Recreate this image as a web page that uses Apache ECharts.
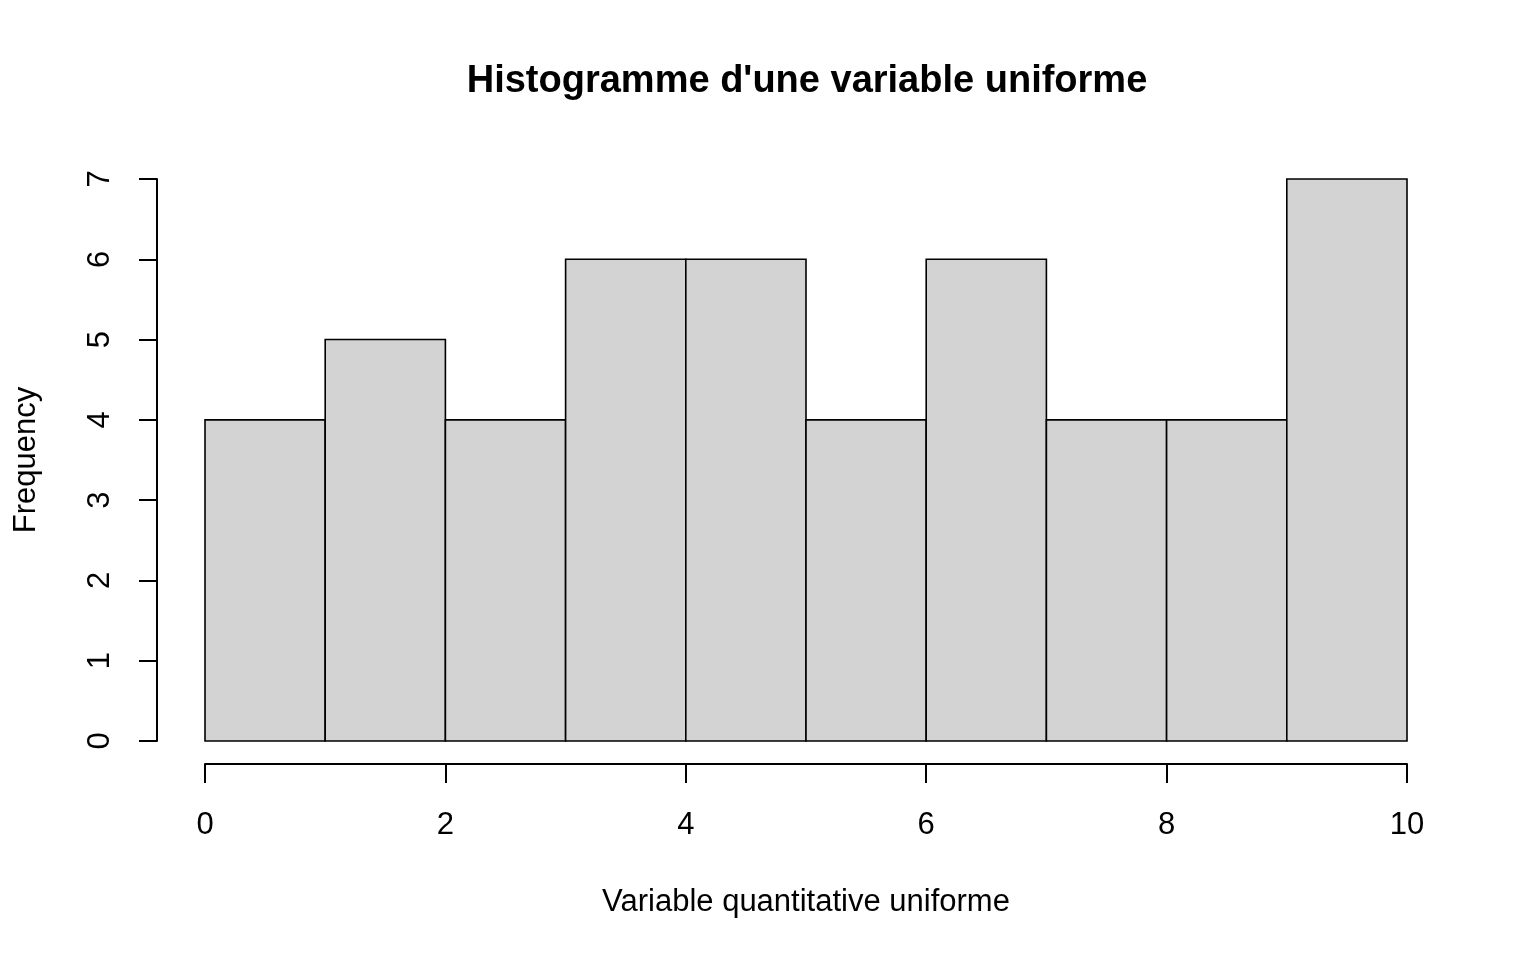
<!DOCTYPE html>
<html>
<head>
<meta charset="utf-8">
<script src="https://cdn.jsdelivr.net/npm/echarts@6/dist/echarts.min.js"></script>
<style>
html,body{margin:0;padding:0;background:#fff;}
#main{width:1536px;height:960px;}
</style>
</head>
<body>
<div id="main"></div>
<script>
const breaks = [0, 1, 2, 3, 4, 5, 6, 7, 8, 9, 10];
const counts = [4, 5, 4, 6, 6, 4, 6, 4, 4, 7];
const titleText = "Histogramme d'une variable uniforme";
const xLabel = "Variable quantitative uniforme";
const yLabel = "Frequency";

const data = counts.map((c, i) => [breaks[i], breaks[i + 1], c]);
const FONT = "'Liberation Sans', Arial, sans-serif";

const chart = echarts.init(document.getElementById('main'), null, {renderer: 'canvas'});
chart.setOption({
  animation: false,
  backgroundColor: '#ffffff',
  title: {
    text: titleText,
    left: 802,
    top: 58,
    textAlign: 'center',
    textStyle: {fontFamily: FONT, fontSize: 38, fontWeight: 'bold', color: '#000'}
  },
  grid: {left: 205, right: 129, top: 179, bottom: 219, containLabel: false},
  xAxis: {
    type: 'value',
    min: 0, max: 10, interval: 2,
    offset: 23,
    name: xLabel,
    nameLocation: 'middle',
    nameGap: 123,
    nameTextStyle: {fontFamily: FONT, fontSize: 31, color: '#000'},
    axisLine: {show: true, onZero: false, lineStyle: {color: '#000', width: 2}},
    axisTick: {show: true, length: 19, lineStyle: {color: '#000', width: 2}},
    axisLabel: {fontFamily: FONT, fontSize: 31, color: '#000', margin: 46},
    splitLine: {show: false}
  },
  yAxis: {
    type: 'value',
    min: 0, max: 7, interval: 1,
    offset: 48,
    name: yLabel,
    nameLocation: 'middle',
    nameGap: 115,
    nameRotate: 90,
    nameTextStyle: {fontFamily: FONT, fontSize: 31, color: '#000'},
    axisLine: {show: true, onZero: false, lineStyle: {color: '#000', width: 2}},
    axisTick: {show: true, length: 18, lineStyle: {color: '#000', width: 2}},
    axisLabel: {fontFamily: FONT, fontSize: 31, color: '#000', rotate: 90, margin: 41},
    splitLine: {show: false}
  },
  series: [{
    type: 'custom',
    data: data,
    encode: {x: [0, 1], y: 2},
    renderItem: function (params, api) {
      const x0 = api.value(0), x1 = api.value(1), v = api.value(2);
      const p0 = api.coord([x0, 0]);
      const p1 = api.coord([x1, v]);
      return {
        type: 'rect',
        shape: {x: p0[0], y: p1[1], width: p1[0] - p0[0], height: p0[1] - p1[1]},
        style: {fill: '#D3D3D3', stroke: '#000', lineWidth: 1.6}
      };
    }
  }]
});
</script>
</body>
</html>
